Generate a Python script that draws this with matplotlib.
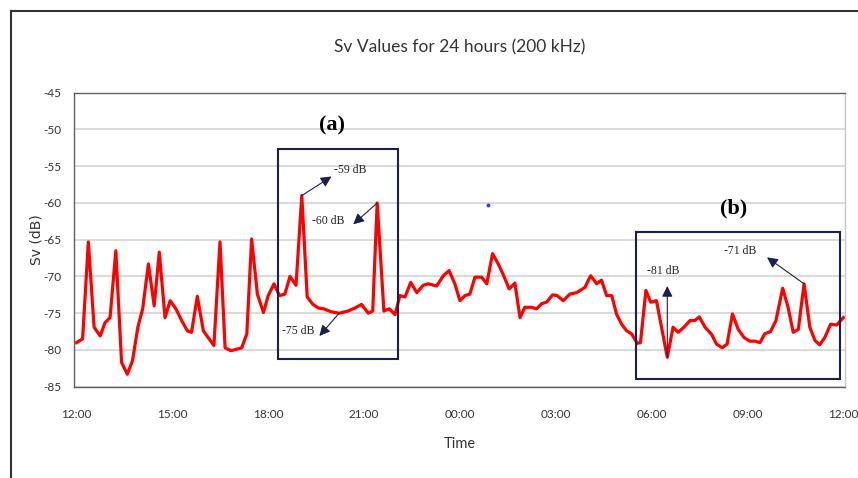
import matplotlib.pyplot as plt
from matplotlib.lines import Line2D
from matplotlib.patches import Rectangle
import numpy as np

# hours since 12:00 and Sv readings (dB) at 200 kHz
hours = [0.00, 0.19, 0.37, 0.55, 0.74, 0.89, 1.05, 1.23, 1.41, 1.59,
         1.75, 1.92, 2.07, 2.25, 2.43, 2.59, 2.77, 2.93, 3.11, 3.29,
         3.47, 3.60, 3.78, 3.97, 4.12, 4.30, 4.49, 4.65, 4.83, 5.01,
         5.17, 5.33, 5.48, 5.66, 5.85, 6.00, 6.18, 6.35, 6.52, 6.68,
         6.87, 7.05, 7.22, 7.40, 7.57, 7.74, 7.96, 8.22, 8.50, 8.71,
         8.92, 9.13, 9.27, 9.41, 9.62, 9.79, 9.97, 10.12, 10.28, 10.46,
         10.65, 10.85, 11.01, 11.27, 11.48, 11.66, 11.84, 12.00, 12.16, 12.31,
         12.47, 12.68, 12.84, 13.02, 13.20, 13.35, 13.54, 13.72, 13.88, 14.03,
         14.24, 14.40, 14.56, 14.71, 14.90, 15.04, 15.23, 15.44, 15.65, 15.91,
         16.09, 16.28, 16.43, 16.59, 16.75, 16.90, 17.06, 17.22, 17.37, 17.55,
         17.65, 17.82, 17.97, 18.15, 18.49, 18.67, 18.83, 19.01, 19.20, 19.35,
         19.49, 19.67, 19.88, 20.03, 20.21, 20.36, 20.53, 20.71, 20.89, 21.07,
         21.23, 21.39, 21.54, 21.72, 21.89, 22.10, 22.27, 22.43, 22.59, 22.77,
         22.95, 23.11, 23.26, 23.42, 23.60, 23.79, 24.00]
sv = [-79.0, -78.5, -65.3, -76.9, -78.1, -76.3, -75.6, -66.5, -81.7, -83.3,
      -81.5, -76.9, -74.4, -68.3, -74.0, -66.7, -75.6, -73.3, -74.4, -76.0,
      -77.4, -77.6, -72.7, -77.4, -78.3, -79.4, -65.3, -79.7, -80.1, -79.9,
      -79.7, -77.8, -64.9, -72.4, -74.9, -72.6, -71.0, -72.6, -72.4, -70.0,
      -71.2, -59.0, -72.8, -73.8, -74.3, -74.4, -74.8, -75.0, -74.7, -74.3,
      -73.8, -75.0, -74.7, -60.0, -74.7, -74.4, -75.2, -72.6, -72.8, -70.8,
      -72.2, -71.2, -71.0, -71.3, -69.9, -69.2, -71.0, -73.3, -72.6, -72.4,
      -70.1, -70.1, -71.0, -66.9, -68.3, -69.7, -71.7, -70.9, -75.6, -74.2,
      -74.2, -74.4, -73.7, -73.5, -72.5, -72.6, -73.3, -72.4, -72.2, -71.5,
      -69.9, -71.0, -70.5, -72.6, -72.6, -75.1, -76.5, -77.4, -77.8, -79.1,
      -79.0, -71.9, -73.5, -73.3, -81.0, -76.9, -77.6, -76.9, -76.0, -76.0,
      -75.5, -76.9, -77.9, -79.2, -79.7, -79.2, -75.1, -77.2, -78.3, -78.8,
      -78.8, -79.0, -77.8, -77.5, -76.0, -71.6, -74.2, -77.6, -77.2, -71.0,
      -76.9, -78.7, -79.3, -78.3, -76.5, -76.6, -75.6]

tick_hours = [0, 3, 6, 9, 12, 15, 18, 21, 24]
tick_labels = ['12:00', '15:00', '18:00', '21:00', '00:00', '03:00', '06:00', '09:00', '12:00']

# highlighted events: index into the series, arrow tip, label position
events = [
    (41, (7.98, -56.4), (8.56, -55.5)),
    (53, (8.66, -62.9), (7.88, -62.4)),
    (47, (7.60, -78.1), (6.94, -77.4)),
    (104, (18.49, -71.3), (18.36, -69.2)),
    (129, (21.61, -67.4), (20.76, -66.6)),
]
# (label, x0, x1, y_bottom, y_top, label x, label y)
regions = [
    ('(a)', 6.31, 10.07, -81.2, -52.6, 7.99, -49.4),
    ('(b)', 17.51, 23.89, -84.0, -63.9, 20.55, -60.8),
]

plt.rcParams['font.family'] = ['Lato', 'DejaVu Sans']
plt.rcParams['axes.unicode_minus'] = False
navy = '#1c1f4e'

fig = plt.figure(figsize=(8.58, 4.78), dpi=100)
ax = fig.add_axes([0.0862, 0.191, 0.8986, 0.615])

ax.plot(hours, sv, color='#ff0000', lw=2.3, solid_joinstyle='round', zorder=3)
ax.scatter([12.88], [-60.3], s=3, color='#2040ff', zorder=3)

ax.set_xlim(-0.08, 24.05)
ax.set_ylim(-85, -45)
ax.set_yticks(np.arange(-85, -44, 5))
ax.set_xticks(tick_hours)
ax.set_xticklabels(tick_labels)
ax.tick_params(length=0, labelsize=8.5, colors='#333333')
ax.tick_params(axis='x', pad=16)
ax.tick_params(axis='y', pad=9)
ax.grid(axis='y', color='#d9d9d9', lw=1.4)
ax.set_axisbelow(True)
for s in ax.spines.values():
    s.set_color('#606060')
    s.set_linewidth(1.0)
ax.spines['right'].set_color('#c8c8c8')

ax.set_xlabel('Time', fontsize=10.5, color='#333333', labelpad=12)
ax.set_ylabel('Sv (dB)', fontsize=10, color='#333333', family='DejaVu Sans', labelpad=0)
fig.text(0.5357, 0.9, 'Sv Values for 24 hours (200 kHz)',
         ha='center', va='center', fontsize=12.5, color='#333333')

for name, x0, x1, y0, y1, lx, ly in regions:
    ax.add_patch(Rectangle((x0, y0), x1 - x0, y1 - y0, fill=False,
                           ec=navy, lw=1.5, zorder=4))
    ax.text(lx, ly, name, ha='center', va='center', fontsize=16,
            fontweight='bold', family='Liberation Serif', color='black')

for i, tip, pos in events:
    ax.annotate('', xy=tip, xytext=(hours[i], sv[i]),
                arrowprops=dict(arrowstyle='-|>', color=navy, lw=0.8,
                                mutation_scale=16, shrinkA=0, shrinkB=0),
                zorder=5)
    ax.text(pos[0], pos[1], f'{sv[i]:.0f} dB', ha='center', va='center',
            fontsize=8.5, family='Liberation Serif', color='#222222')

# chart border
fig.add_artist(Line2D([0.0128, 0.0128], [0.977, 0.0], color='#333333', lw=1.5))
fig.add_artist(Line2D([0.0128, 1.0], [0.977, 0.977], color='#333333', lw=1.5))

fig.savefig('out.png', dpi=100)
